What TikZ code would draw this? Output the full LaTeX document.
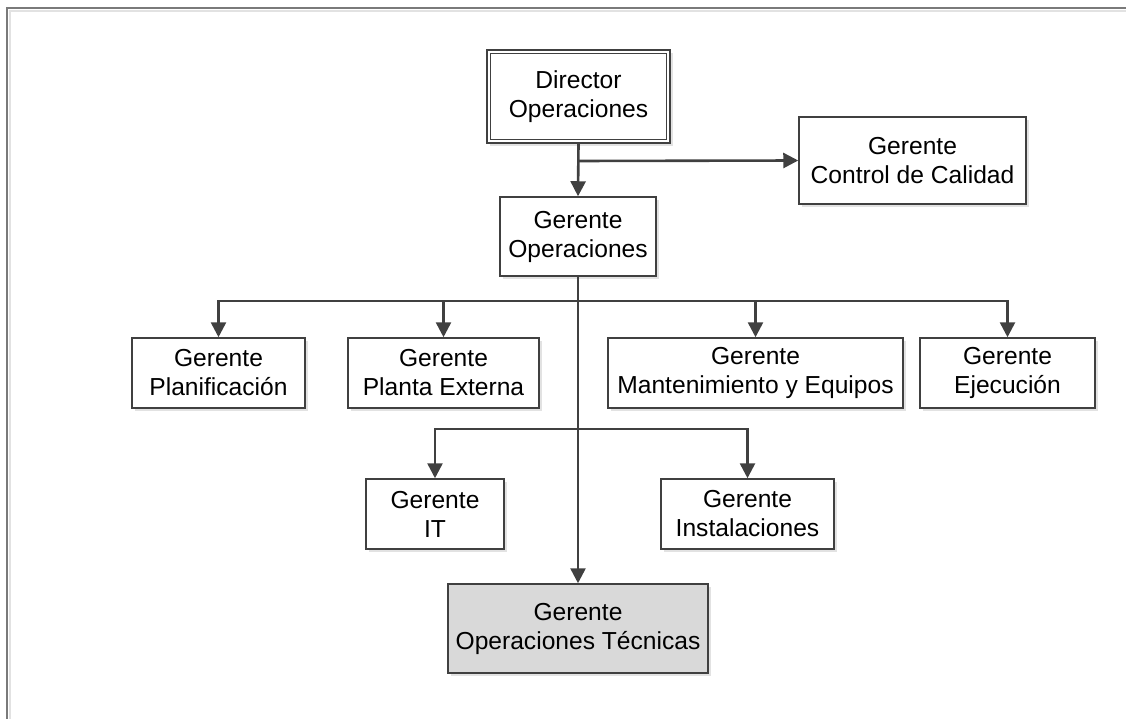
\documentclass[tikz,border=0pt]{standalone}
\usepackage{fontspec}
\setmainfont{Liberation Sans}
\usetikzlibrary{arrows.meta}
\definecolor{linegray}{HTML}{404040}
\definecolor{framegray}{HTML}{7A7A7A}
\definecolor{shadowgray}{HTML}{E2E2E2}
\definecolor{techfill}{HTML}{D9D9D9}
\tikzset{
  plainbox/.style={draw=linegray, line width=1.5pt, fill=white, align=center,
    inner sep=0pt, text=black,
    font=\fontsize{24.6}{29}\selectfont},
  orgbox/.style={plainbox,
    preaction={draw=none, fill=shadowgray, transform canvas={shift={(3pt,-3pt)}}}},
  conn/.style={draw=linegray, line width=2.6pt,
    -{Triangle[length=15pt,width=15pt]}}
}
\begin{document}
\begin{tikzpicture}[x=1pt,y=-1pt]
  \useasboundingbox (0,0) rectangle (1126,719);
  % outer frame (top and left edges only)
  \draw[shadowgray, line width=1.2pt] (10,719) -- (10,11) -- (1126,11);
  \draw[framegray, line width=1.4pt] (7,719) -- (7,8) -- (1126,8);

  % boxes
  \node[orgbox, line width=1.1pt, minimum width=183pt, minimum height=93pt] (dirout) at (578.5,96.5) {};
  \node[plainbox, line width=1.1pt, minimum width=176pt, minimum height=86pt] (dir) at (578.5,96.5) {Director\\Operaciones};
  \node[orgbox, minimum width=227pt, minimum height=87pt] (cal) at (912.5,160.5) {Gerente\\Control de Calidad};
  \node[orgbox, minimum width=156pt, minimum height=79pt] (gop) at (578,236.5) {Gerente\\Operaciones};
  \node[orgbox, minimum width=173pt, minimum height=70pt] (pla) at (218.5,373) {Gerente\\Planificación};
  \node[orgbox, minimum width=191pt, minimum height=70pt] (pex) at (443.5,373) {Gerente\\Planta Externa};
  \node[orgbox, minimum width=295pt, minimum height=70pt] (man) at (755.5,373) {Gerente\\Mantenimiento y Equipos};
  \node[orgbox, minimum width=175pt, minimum height=70pt] (eje) at (1007.5,373) {Gerente\\Ejecución};
  \node[orgbox, minimum width=138pt, minimum height=70pt] (it) at (435,514) {Gerente\\IT};
  \node[orgbox, minimum width=173pt, minimum height=70pt] (ins) at (747.5,514) {Gerente\\Instalaciones};
  \node[orgbox, fill=techfill, minimum width=260pt, minimum height=89pt] (tec) at (578,628.5) {Gerente\\Operaciones Técnicas};

  % branch points on the trunk
  \coordinate (b0) at (578,161);
  \coordinate (b1) at (578,301);
  \coordinate (b2) at (578,429);

  % connectors
  \draw[conn] (dirout.south) -- (gop.north);
  \draw[conn] (b0) -- (cal.west);
  \draw[conn] (gop.south) -- (tec.north);
  \draw[conn] (b1) -| (pla.north);
  \draw[conn] (b1) -| (pex.north);
  \draw[conn] (b1) -| (man.north);
  \draw[conn] (b1) -| (eje.north);
  \draw[conn] (b2) -| (it.north);
  \draw[conn] (b2) -| (ins.north);
\end{tikzpicture}
\end{document}
